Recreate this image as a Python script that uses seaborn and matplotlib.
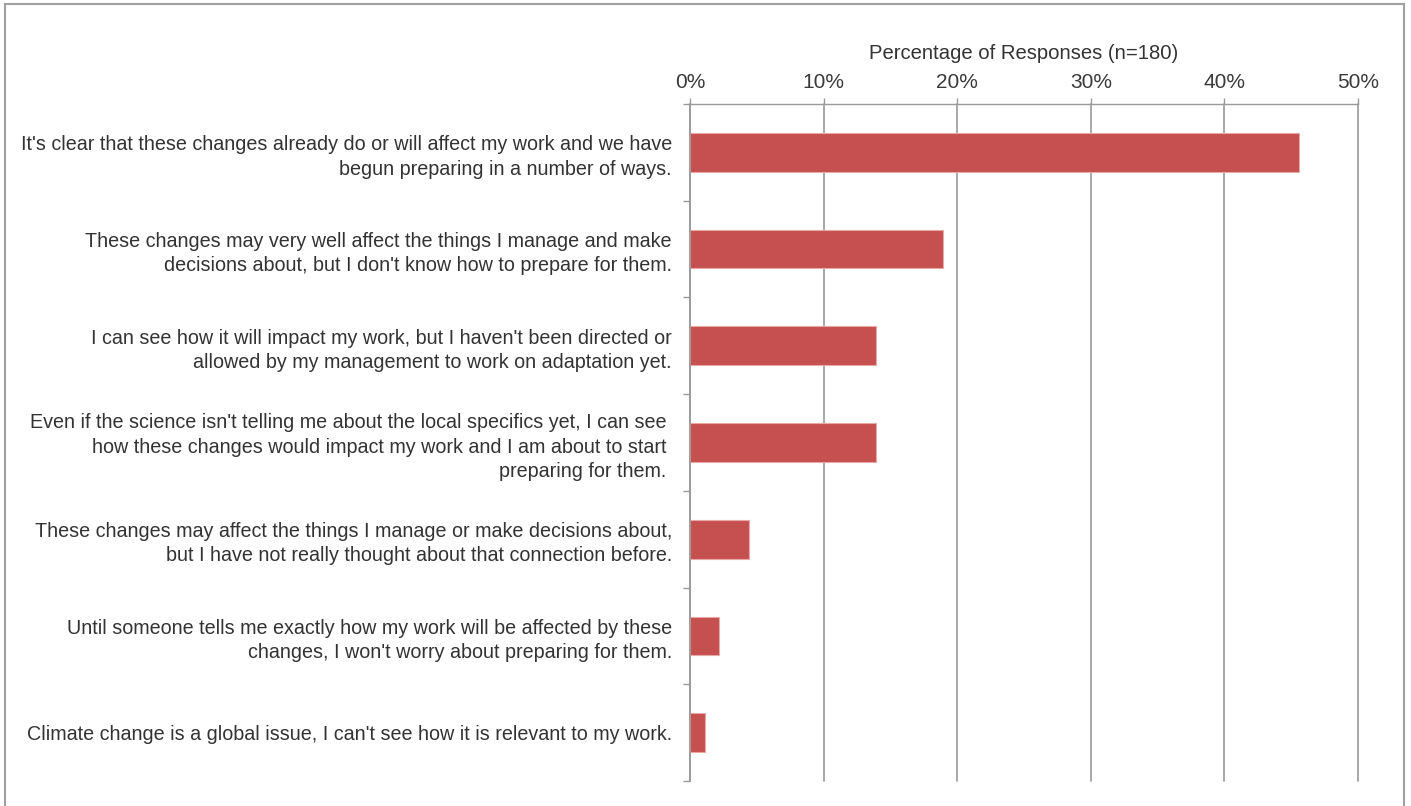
import matplotlib
matplotlib.use("Agg")
import matplotlib.pyplot as plt
from matplotlib.patches import Rectangle
from matplotlib.ticker import FixedLocator, FuncFormatter
import seaborn as sns
import pandas as pd

responses = [
    "It's clear that these changes already do or will affect my work and we have\nbegun preparing in a number of ways.",
    "These changes may very well affect the things I manage and make\ndecisions about, but I don't know how to prepare for them.",
    "I can see how it will impact my work, but I haven't been directed or\nallowed by my management to work on adaptation yet.",
    "Even if the science isn't telling me about the local specifics yet, I can see \nhow these changes would impact my work and I am about to start \npreparing for them. ",
    "These changes may affect the things I manage or make decisions about,\nbut I have not really thought about that connection before.",
    "Until someone tells me exactly how my work will be affected by these\nchanges, I won't worry about preparing for them.",
    "Climate change is a global issue, I can't see how it is relevant to my work.",
]
percent = [45.6, 18.9, 13.9, 13.9, 4.4, 2.2, 1.1]
x_ticks = [0, 10, 20, 30, 40, 50]
x_title = "Percentage of Responses (n=180)"

df = pd.DataFrame({"response": responses, "percent": percent})

sns.set_theme(style="white")
plt.rcParams["font.family"] = ["Liberation Sans", "DejaVu Sans"]

text_color = "#333333"
grid_color = "#9a9a9a"
bar_color = "#c5504f"

fig = plt.figure(figsize=(14.11, 8.06), dpi=100)
ax = fig.add_axes([690 / 1411, 1 - 781 / 806, 668 / 1411, 677 / 806])

sns.barplot(data=df, y="response", x="percent", orient="h", color=bar_color,
            saturation=1, width=0.4, edgecolor="#e9a8a6", linewidth=0.8, ax=ax)

ax.set_xlim(0, 50)
ax.set_ylim(len(responses) - 0.5, -0.5)

# Percentage axis on top with vertical grid lines
ax.xaxis.tick_top()
ax.xaxis.set_label_position("top")
ax.set_xticks(x_ticks)
ax.xaxis.set_major_formatter(FuncFormatter(lambda v, _: f"{v:.0f}%"))
ax.set_xlabel(x_title, fontsize=14.6, color=text_color, labelpad=10)
ax.tick_params(axis="x", which="major", direction="out", length=4, width=1.0,
               color=grid_color, labelsize=15, labelcolor="#3a3a3a", pad=5)
ax.grid(axis="x", color=grid_color, linewidth=1.2)
for gl in ax.xaxis.get_gridlines():
    gl.set_clip_on(False)
ax.set_axisbelow(True)

# Category labels, with separator ticks between categories
ax.set_ylabel("")
ax.tick_params(axis="y", which="major", length=0, labelsize=14.2,
               labelcolor=text_color, pad=13)
ax.yaxis.set_minor_locator(FixedLocator([i - 0.5 for i in range(len(responses) + 1)]))
ax.tick_params(axis="y", which="minor", left=True, direction="out", length=5,
               width=1.0, color=grid_color)
for lbl in ax.get_yticklabels():
    lbl.set_linespacing(1.35)

for side in ["right", "bottom"]:
    ax.spines[side].set_visible(False)
ax.spines["left"].set_color(grid_color)
ax.spines["left"].set_linewidth(1.2)
ax.spines["top"].set_color(grid_color)
ax.spines["top"].set_linewidth(1.0)

# Outer frame around the chart
fig.patches.append(Rectangle((5 / 1411, -0.05), 1399 / 1411, 1.05 - 4 / 806,
                             transform=fig.transFigure, fill=False,
                             edgecolor="#a0a0a0", linewidth=1.5))

fig.savefig("out.png", dpi=100)
